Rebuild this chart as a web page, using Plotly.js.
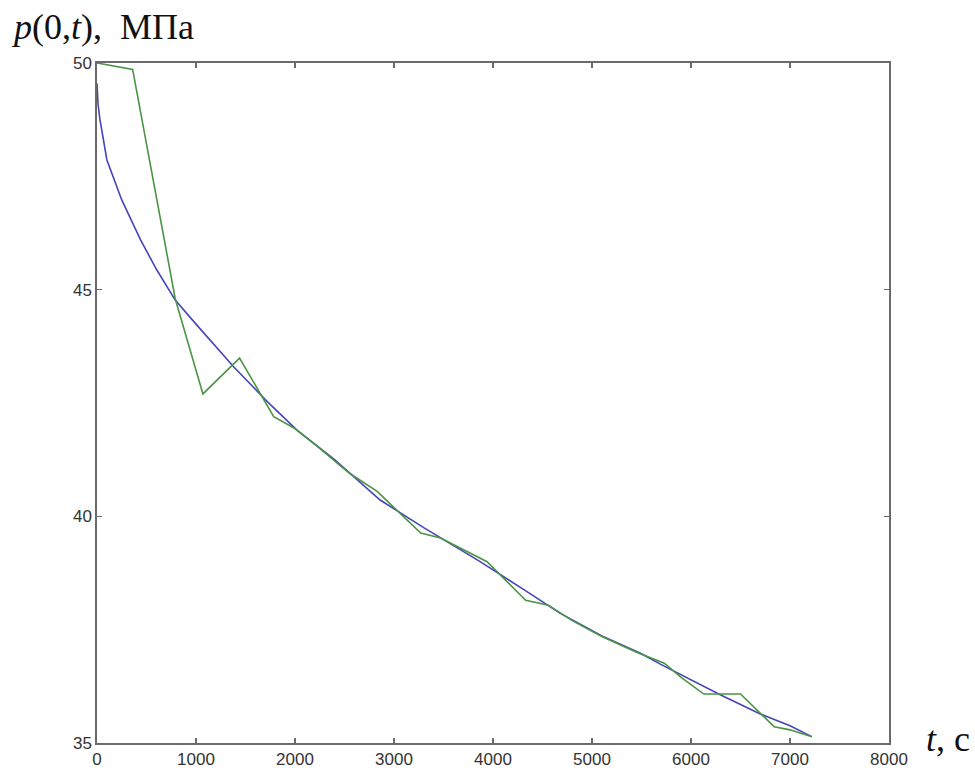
<!DOCTYPE html>
<html>
<head>
<meta charset="utf-8">
<script src="https://cdn.plot.ly/plotly-3.0.1.min.js"></script>
<style>html,body{margin:0;padding:0;background:#fff;}#chart{width:975px;height:776px;}</style>
</head>
<body>
<div id="chart"></div>
<script>
// Smooth (blue) curve: time t, s and pressure p, MPa
const blueT = [0, 10, 30, 100, 250, 440, 600, 790, 1000, 1200, 1380, 1720, 2020, 2400, 2860, 3300, 3670, 3870, 4300, 4680, 5100, 5490, 5690, 6000, 6300, 6700, 7000, 7220];
const blueP = [49.55, 49.1, 48.75, 47.86, 46.98, 46.1, 45.45, 44.77, 44.24, 43.74, 43.3, 42.53, 41.9, 41.25, 40.36, 39.75, 39.26, 39.0, 38.4, 37.86, 37.36, 36.98, 36.74, 36.4, 36.06, 35.64, 35.38, 35.14];
// Piecewise (green) curve
const greenT = [0, 360, 680, 790, 1070, 1440, 1785, 1990, 2250, 2550, 2830, 3000, 3270, 3470, 3670, 3940, 4330, 4560, 4800, 5100, 5450, 5730, 5900, 6130, 6500, 6840, 7000, 7220];
const greenP = [50.0, 49.86, 46.1, 44.8, 42.70, 43.49, 42.20, 41.95, 41.5, 40.95, 40.55, 40.2, 39.63, 39.52, 39.3, 39.0, 38.15, 38.04, 37.7, 37.35, 37.0, 36.76, 36.45, 36.08, 36.08, 35.36, 35.29, 35.14];
const xTicks = [0, 1000, 2000, 3000, 4000, 5000, 6000, 7000, 8000];
const yTicks = [35, 40, 45, 50];

const traces = [
  {x: blueT, y: blueP, mode: 'lines', line: {color: '#4545b8', width: 1.6}, hoverinfo: 'skip'},
  {x: greenT, y: greenP, mode: 'lines', line: {color: '#4a9444', width: 1.6}, hoverinfo: 'skip'}
];

const axisCommon = {
  showgrid: false, zeroline: false, showline: true, linecolor: '#6a6a6a', linewidth: 1.6,
  mirror: 'ticks', ticks: 'inside', ticklen: 5, tickcolor: '#6a6a6a', tickwidth: 1.2,
  tickfont: {family: 'Liberation Sans, Arial, sans-serif', size: 17, color: '#333'},
  automargin: false, fixedrange: true
};

const layout = {
  width: 975, height: 776,
  margin: {l: 97, r: 86, t: 63, b: 33},
  paper_bgcolor: '#fff', plot_bgcolor: '#fff',
  showlegend: false,
  xaxis: Object.assign({}, axisCommon, {range: [0, 8000], tickvals: xTicks, ticktext: xTicks.map(String)}),
  yaxis: Object.assign({}, axisCommon, {range: [35, 50], tickvals: yTicks, ticktext: yTicks.map(String)}),
  annotations: [
    {text: '<i>p</i>(0,<i>t</i>),  МПа', xref: 'paper', yref: 'paper', x: -0.111, y: 1.053,
     xanchor: 'left', yanchor: 'middle', showarrow: false,
     font: {family: 'Liberation Serif, Times New Roman, serif', size: 36, color: '#111'}},
    {text: '<i>t</i>, с', xref: 'paper', yref: 'paper', x: 1.044, y: 0.006,
     xanchor: 'left', yanchor: 'middle', showarrow: false,
     font: {family: 'Liberation Serif, Times New Roman, serif', size: 36, color: '#111'}}
  ]
};

Plotly.newPlot('chart', traces, layout, {displayModeBar: false, staticPlot: true});
</script>
</body>
</html>
